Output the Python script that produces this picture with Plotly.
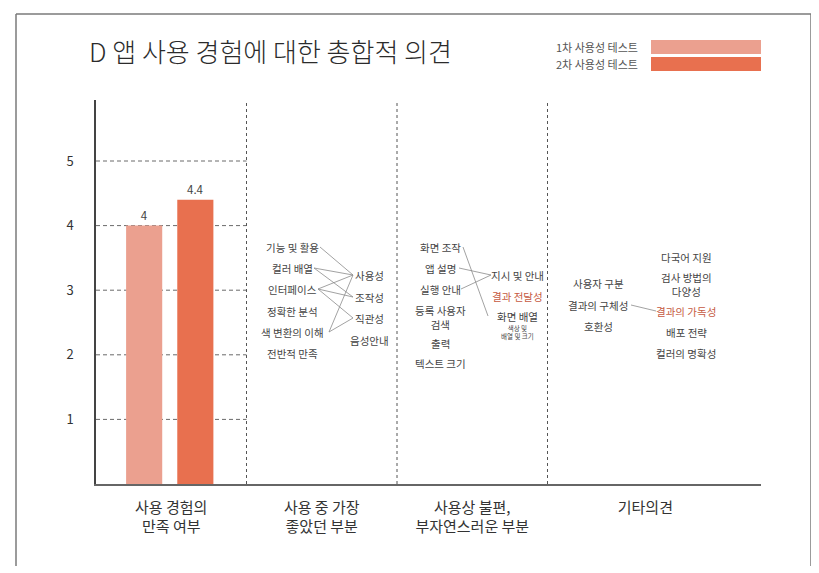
import plotly.graph_objects as go

W, H = 819, 573
OFF = 8  # browser body margin
FW, FH = W - OFF, H - OFF
FONT = "Noto Sans CJK KR"

# ---------------- data ----------------
title = "D 앱 사용 경험에 대한 총합적 의견"
series_names = ["1차 사용성 테스트", "2차 사용성 테스트"]
series_values = [4.0, 4.4]
categories = ["사용 경험의<br>만족 여부", "사용 중 가장<br>좋았던 부분",
              "사용상 불편,<br>부자연스러운 부분", "기타의견"]
score_ticks = [1, 2, 3, 4, 5]

best_items = ["기능 및 활용", "컬러 배열", "인터페이스", "정확한 분석", "색 변환의 이해", "전반적 만족"]
best_groups = ["사용성", "조작성", "직관성", "음성안내"]
best_links = [(0, 0), (1, 0), (1, 1), (2, 0), (2, 1), (2, 2), (4, 0), (4, 2)]

issue_items = ["화면 조작", "앱 설명", "실행 안내", "등록 사용자<br>검색", "출력", "텍스트 크기"]
issue_groups = ["지시 및 안내", "결과 전달성", "화면 배열"]
issue_note = "색상 및<br>배열 및 크기"
issue_links = [(0, 2), (1, 0), (2, 0)]

other_items = ["사용자 구분", "결과의 구체성", "호환성"]
other_groups = ["다국어 지원", "검사 방법의<br>다양성", "결과의 가독성", "배포 전략", "컬러의 명확성"]
other_links = [(1, 2)]

highlighted = {"결과 전달성", "결과의 가독성"}

# ---------------- style / layout ----------------
bar_colors = ["#EBA08F", "#E8704F"]
TEXT = "#444444"
RED = "#C65A42"
LINK = "#8a8a8a"

def px(x):
    return (x - OFF) / FW

def py(y):
    return 1 - (y - OFF) / FH

# axis geometry (window pixels)
AX_L, AX_R, AX_B, AX_T = 96, 761, 484, 100
PANEL = 150.5
X_MAX = (AX_R - AX_L) / PANEL
UNIT = 64.6
Y_MAX = (AX_B - AX_T) / UNIT

fig = go.Figure()
bar_x = [0.32, 0.66]
for i, (name, val) in enumerate(zip(series_names, series_values)):
    fig.add_trace(go.Bar(
        x=[bar_x[i]], y=[val], width=[0.24], name=name,
        marker=dict(color=bar_colors[i], line=dict(width=0)),
        text=[f"{val:g}"], textposition="outside", cliponaxis=False,
        textfont=dict(family=FONT, size=11.5, color="#444"),
        showlegend=False, hoverinfo="skip",
    ))

shapes = []
annotations = []

# frame
for (x0, y0, x1, y1) in [(16, 14, 16, 566), (16, 14, 811, 14), (811, 14, 811, 566)]:
    shapes.append(dict(type="line", xref="paper", yref="paper",
                       x0=px(x0), y0=py(y0), x1=px(x1), y1=py(y1),
                       line=dict(color="#7a7a7a", width=1.5)))

# horizontal dashed grid in first panel
for t in score_ticks:
    shapes.append(dict(type="line", xref="x", yref="y", x0=0, x1=1, y0=t, y1=t,
                       line=dict(color="#6a6a6a", width=1, dash="4px,3px"), layer="below"))

# vertical dashed panel separators
for s in [1, 2, 3]:
    shapes.append(dict(type="line", xref="x", yref="y", x0=s, x1=s, y0=0, y1=Y_MAX + 0.05,
                       line=dict(color="#555", width=1, dash="3px,3px")))

# title
annotations.append(dict(text=title, xref="paper", yref="paper", x=px(87), y=py(50),
                        xanchor="left", yanchor="middle", showarrow=False,
                        font=dict(family=FONT, size=26, color="#2b2b2b", weight=300)))

# legend
leg_y = [47, 64]
for i, name in enumerate(series_names):
    annotations.append(dict(text=name, xref="paper", yref="paper", x=px(640), y=py(leg_y[i]),
                            xanchor="right", yanchor="middle", showarrow=False,
                            font=dict(family=FONT, size=11, color="#555")))
    shapes.append(dict(type="rect", xref="paper", yref="paper",
                       x0=px(651), x1=px(761), y0=py(leg_y[i] - 7), y1=py(leg_y[i] + 7),
                       fillcolor=bar_colors[i], line=dict(width=0)))

def add_label(text, cx, cy, size=10.5, color=TEXT):
    annotations.append(dict(text=text, xref="paper", yref="paper", x=px(cx), y=py(cy),
                            xanchor="center", yanchor="middle", showarrow=False,
                            align="center",
                            font=dict(family=FONT, size=size, color=color)))

def add_link(x0, y0, x1, y1):
    shapes.append(dict(type="line", xref="paper", yref="paper",
                       x0=px(x0), y0=py(y0), x1=px(x1), y1=py(y1),
                       line=dict(color=LINK, width=0.8)))

# panel 2
b_lx, b_ly = 292, [247, 268, 289, 311, 332, 353]
b_lend = [320, 314, 318, 322, 329, 318]
b_rx, b_ry = 369, [275, 297, 318, 340]
b_rstart = 353
for t, y in zip(best_items, b_ly):
    add_label(t, b_lx, y)
for t, y in zip(best_groups, b_ry):
    add_label(t, b_rx, y, color=RED if t in highlighted else TEXT)
for a, b in best_links:
    add_link(b_lend[a], b_ly[a], b_rstart, b_ry[b])

# panel 3
i_lx, i_ly = 440, [247, 268, 289, 317, 343, 363]
i_lend = [463, 459, 461, 462, 452, 465]
i_rx, i_ry = 517, [275, 296, 316]
i_rstart = [491, 493, 488]
for t, y in zip(issue_items, i_ly):
    add_label(t, i_lx, y)
for t, y in zip(issue_groups, i_ry):
    add_label(t, i_rx, y, color=RED if t in highlighted else TEXT)
add_label(issue_note, i_rx, 332, size=6.5)
for a, b in issue_links:
    add_link(i_lend[a], i_ly[a], i_rstart[b], i_ry[b])

# panel 4
o_lx, o_ly = 598, [283, 305, 326]
o_lend = [624, 631, 615]
o_rx, o_ry = 686, [257, 284, 311, 332, 353]
o_rstart = [661, 661, 656, 664, 659]
for t, y in zip(other_items, o_ly):
    add_label(t, o_lx, y)
for t, y in zip(other_groups, o_ry):
    add_label(t, o_rx, y, color=RED if t in highlighted else TEXT)
for a, b in other_links:
    add_link(o_lend[a], o_ly[a], o_rstart[b], o_ry[b])

fig.update_layout(
    width=FW, height=FH,
    margin=dict(l=0, r=0, t=0, b=0),
    paper_bgcolor="white", plot_bgcolor="white",
    font=dict(family=FONT, color=TEXT),
    showlegend=False,
    shapes=shapes, annotations=annotations,
    xaxis=dict(domain=[px(AX_L), px(AX_R)], range=[0, X_MAX],
               tickvals=[0.5, 1.5, 2.5, 3.65], ticktext=categories,
               showgrid=False, zeroline=False, showline=True,
               linecolor="#666", linewidth=1.5, ticks="",
               ticklabelstandoff=9,
               tickfont=dict(family=FONT, size=15, color="#333")),
    yaxis=dict(domain=[py(AX_B), py(AX_T)], range=[0, Y_MAX],
               tickvals=score_ticks, ticktext=[str(t) for t in score_ticks],
               showgrid=False, zeroline=False, showline=True,
               linecolor="#444", linewidth=1.5, ticks="",
               ticklabelstandoff=18,
               tickfont=dict(family=FONT, size=13, color="#333")),
)

fig.write_html("out.html")
